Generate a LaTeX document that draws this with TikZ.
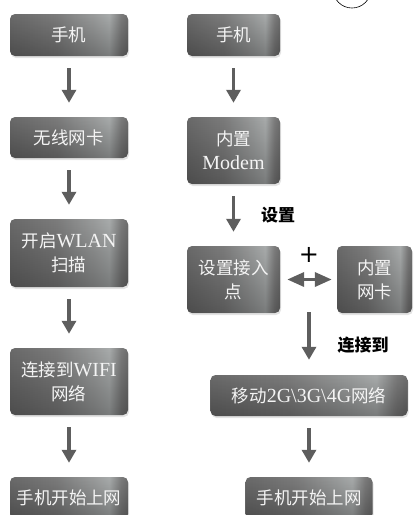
\documentclass[tikz,border=0pt]{standalone}
\usepackage{fontspec}
\newfontfamily\cjk{Noto Sans CJK SC}
\newfontfamily\latfont{Liberation Serif}
\newfontfamily\plusfont{DejaVu Sans}
\usetikzlibrary{arrows.meta,shadows,fadings}
\definecolor{c1}{HTML}{6A6A6A}
\definecolor{c2}{HTML}{7C7C7C}
\definecolor{c3}{HTML}{999B9B}
\definecolor{c4}{HTML}{A8ABAB}
\definecolor{c5}{HTML}{6E6E6E}
\definecolor{arrgray}{HTML}{5E5E5E}
\definecolor{txtwhite}{HTML}{F4F4F4}
\pgfdeclarehorizontalshading{btnshade}{100bp}{color(0bp)=(c1); color(25bp)=(c1); color(45bp)=(c2); color(60bp)=(c3); color(67bp)=(c4); color(72bp)=(c2); color(75bp)=(c5); color(100bp)=(c5)}
\tikzfading[name=bottomedge, top color=transparent!100, middle color=transparent!90, bottom color=transparent!20]
\newcommand\lat[1]{{\latfont\fontsize{20}{24}\selectfont #1}}
\begin{document}
\begin{tikzpicture}[x=1pt,y=-1pt,
  btn/.style={rounded corners=5pt, shading=btnshade, text=txtwhite,
    font=\cjk\fontsize{17.5}{24}\selectfont, align=center, inner sep=0pt,
    drop shadow={opacity=0.22, shadow xshift=1pt, shadow yshift=-2pt},
    postaction={fill=black, fill opacity=0.35, path fading=bottomedge}},
  arr/.style={draw=arrgray, line width=3.5pt, -{Triangle[width=14pt,length=13pt]},
    shorten <=12pt, shorten >=14pt},
  arr2/.style={draw=arrgray, line width=3.5pt,
    {Triangle[width=14pt,length=17pt]}-{Triangle[width=14pt,length=17pt]},
    shorten <=7pt, shorten >=5pt},
  lab/.style={font=\cjk\bfseries\fontsize{17}{20}\selectfont, text=black, inner sep=0pt}]
\useasboundingbox (0,0) rectangle (415,515);
\clip (0,0) rectangle (415,515);
\draw[line width=0.6pt] (352,-11) circle[radius=19];

% left column
\node[btn, minimum width=118pt, minimum height=42pt] (L1) at (69,35) {手机};
\node[btn, minimum width=118pt, minimum height=41pt] (L2) at (69,137.5) {无线网卡};
\node[btn, minimum width=118pt, minimum height=68pt] (L3) at (69,253) {开启\lat{WLAN}\\扫描};
\node[btn, minimum width=118pt, minimum height=67pt] (L4) at (69,381.5) {连接到\lat{WIFI}\\网络};
\node[btn, minimum width=118pt, minimum height=42pt] (L5) at (69,498) {手机开始上网};

% right column
\node[btn, minimum width=93pt, minimum height=42pt] (R1) at (233.5,35) {手机};
\node[btn, minimum width=93pt, minimum height=67pt] (R2) at (233.5,150.5) {内置\\\lat{Modem}};
\node[btn, minimum width=93pt, minimum height=67pt] (R3) at (233.5,279.5) {设置接入\\点};
\node[btn, minimum width=75pt, minimum height=67pt] (R4) at (374.5,279.5) {内置\\网卡};
\node[btn, minimum width=197pt, minimum height=41pt] (R5) at (309,395.5) {移动\lat{2G\textbackslash 3G\textbackslash 4G}网络};
\node[btn, minimum width=127pt, minimum height=42pt] (R6) at (309,498) {手机开始上网};

% arrows
\draw[arr] (L1) -- (L2);
\draw[arr] (L2) -- (L3);
\draw[arr] (L3) -- (L4);
\draw[arr] (L4) -- (L5);
\draw[arr] (R1) -- (R2);
\draw[arr] (R2) -- (R3);
\draw[arr2] (R3) -- (R4);
\coordinate (j) at (309,312);
\draw[arr, shorten <=0pt, shorten >=15pt] (j) -- (R5);
\draw[arr] (R5) -- (R6);

% labels
\node[lab] (s1) at (278,215) {设置};
\node[lab] (s2) at (363,345) {连接到};
\node[inner sep=0pt, font=\plusfont\fontsize{24}{24}\selectfont] (plus) at (309,255) {+};
\end{tikzpicture}
\end{document}
